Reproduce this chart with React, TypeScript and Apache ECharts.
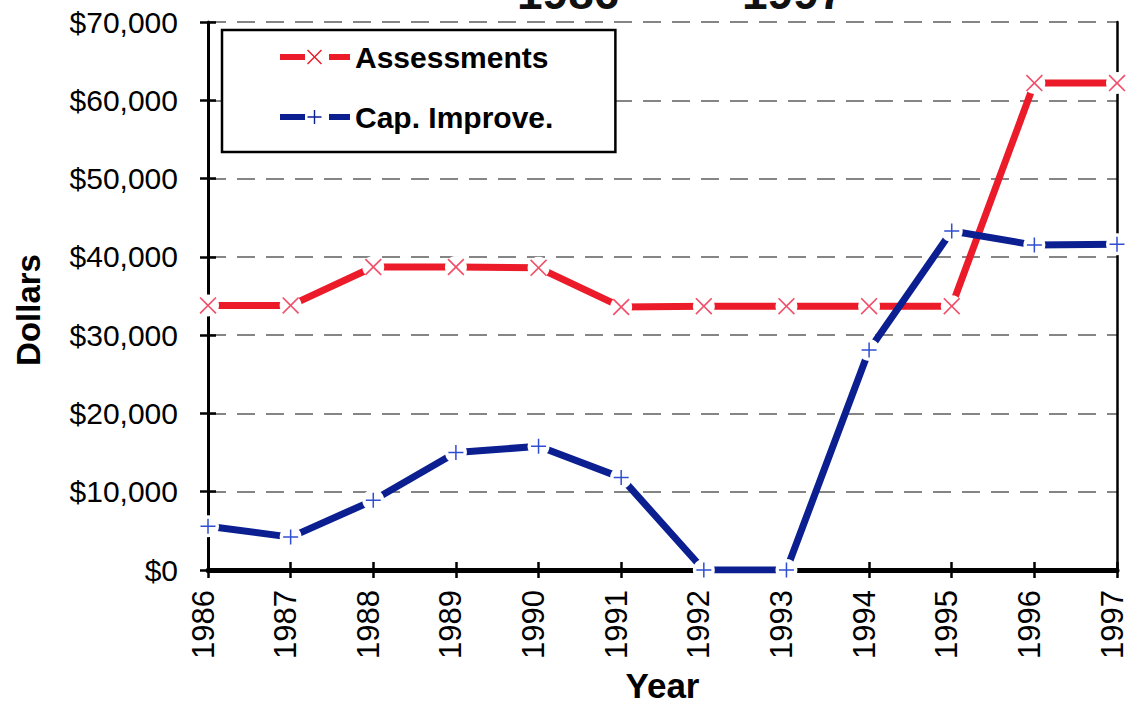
import React, { useEffect, useRef } from "react";
import * as echarts from "echarts";

const years = ["1986", "1987", "1988", "1989", "1990", "1991", "1992", "1993", "1994", "1995", "1996", "1997"];
const assessments = [33800, 33800, 38700, 38700, 38600, 33600, 33700, 33700, 33700, 33700, 62200, 62200];
const capImprove = [5600, 4200, 8900, 15000, 15800, 11800, 0, 0, 28100, 43300, 41500, 41600];
const titleParts = ["1986", "-", "1997"];
const seriesNames = ["Assessments", "Cap. Improve."];

const FONT = "'Liberation Sans', Arial, sans-serif";
const RED = "#ec1b2a";
const BLUE = "#0b1f91";
const RED_MARK = "#f0506a";
const BLUE_MARK = "#2f4fd0";

// X marker outline (unit 16 box)
const xPts: number[][] = [
  [1.1, 0], [8, 6.9], [14.9, 0], [16, 1.1], [9.1, 8], [16, 14.9],
  [14.9, 16], [8, 9.1], [1.1, 16], [0, 14.9], [6.9, 8], [0, 1.1],
];
const plusPts: number[][] = [
  [7.2, 0], [8.8, 0], [8.8, 7.2], [16, 7.2], [16, 8.8], [8.8, 8.8],
  [8.8, 16], [7.2, 16], [7.2, 8.8], [0, 8.8], [0, 7.2], [7.2, 7.2],
];
function poly(pts: number[][], ox: number, oy: number, s: number) {
  return (
    pts
      .map((p, i) => (i === 0 ? "M" : "L") + (ox + p[0] * s).toFixed(2) + "," + (oy + p[1] * s).toFixed(2))
      .join(" ") + " Z"
  );
}
const X_SYMBOL = "path://" + poly(xPts, 0, 0, 1);
const PLUS_SYMBOL = "path://" + poly(plusPts, 0, 0, 1);
const dashes = "M0,12 H25 V18 H0 Z M49,12 H70 V18 H49 Z ";
const X_LEGEND = "path://" + dashes + poly(xPts, 27, 7.5, 15 / 16);
const PLUS_LEGEND = "path://" + dashes + poly(plusPts, 27.5, 8, 14 / 16);

export default function App() {
  const ref = useRef<HTMLDivElement>(null);
  useEffect(() => {
    if (!ref.current) return;
    const chart = echarts.init(ref.current, null, { renderer: "svg" });
    const gridRect = { left: 208, right: 9, top: 22, bottom: 132, outerBoundsMode: "none", containLabel: false };
    const titleFont = "bold 46px " + FONT;
    chart.setOption({
      animation: false,
      backgroundColor: "#ffffff",
      textStyle: { fontFamily: FONT },
      grid: [
        { ...gridRect, show: false },
        { ...gridRect, show: false },
      ],
      graphic: [
        {
          type: "group",
          children: [
            { type: "text", x: 517, y: -30, style: { text: titleParts[0], font: titleFont, fill: "#111" } },
            { type: "text", x: 672, y: -30, style: { text: titleParts[1], font: titleFont, fill: "#111" } },
            { type: "text", x: 742, y: -30, style: { text: titleParts[2], font: titleFont, fill: "#111" } },
          ],
        },
      ],
      legend: {
        orient: "vertical",
        left: 222,
        top: 30,
        padding: [12, 62, 20, 58],
        itemGap: 30,
        itemWidth: 70,
        itemHeight: 30,
        backgroundColor: "#ffffff",
        borderColor: "#000",
        borderWidth: 2.5,
        borderRadius: 0,
        selectedMode: false,
        textStyle: { fontSize: 30, fontWeight: "bold", color: "#000", fontFamily: FONT },
        data: [
          { name: seriesNames[0], icon: X_LEGEND, itemStyle: { color: RED, borderWidth: 0 } },
          { name: seriesNames[1], icon: PLUS_LEGEND, itemStyle: { color: BLUE, borderWidth: 0 } },
        ],
      },
      xAxis: [
        {
          gridIndex: 0,
          type: "category",
          data: years,
          boundaryGap: false,
          position: "bottom",
          z: 1,
          axisLine: { show: true, lineStyle: { color: "#000", width: 5 } },
          axisTick: { show: true, inside: false, length: 8, lineStyle: { color: "#000", width: 2.5 } },
          axisLabel: {
            rotate: 90,
            fontSize: 31,
            color: "#000",
            margin: 20,
            fontFamily: FONT,
            verticalAlign: "bottom",
            lineHeight: 10,
          },
          splitLine: { show: false },
          name: "Year",
          nameLocation: "middle",
          nameGap: 98,
          nameTextStyle: { fontSize: 35, fontWeight: "bold", color: "#000", fontFamily: FONT },
        },
        {
          gridIndex: 1,
          type: "category",
          data: years,
          boundaryGap: false,
          position: "top",
          z: 1,
          axisLine: { show: true, lineStyle: { color: "#000", width: 2.5 } },
          axisTick: { show: false },
          axisLabel: { show: false },
          splitLine: { show: false },
        },
        {
          gridIndex: 1,
          type: "category",
          data: years,
          boundaryGap: false,
          position: "bottom",
          z: 1,
          axisLine: { show: false },
          axisTick: { show: true, inside: true, length: 8, lineStyle: { color: "#000", width: 2.5 } },
          axisLabel: { show: false },
          splitLine: { show: false },
        },
      ],
      yAxis: [
        {
          gridIndex: 0,
          type: "value",
          min: 0,
          max: 70000,
          interval: 10000,
          position: "left",
          z: 0,
          axisLine: { show: true, lineStyle: { color: "#000", width: 3 } },
          axisTick: { show: true, inside: false, length: 8, lineStyle: { color: "#000", width: 2.5 } },
          axisLabel: {
            fontSize: 30,
            color: "#000",
            margin: 30,
            fontFamily: FONT,
            formatter: (v: number) => "$" + v.toLocaleString("en-US"),
          },
          splitLine: { show: true, lineStyle: { color: "#5e5e5e", width: 1.5, type: [18, 11] } },
          name: "Dollars",
          nameLocation: "middle",
          nameGap: 163,
          nameTextStyle: { fontSize: 33, fontWeight: "bold", color: "#000", fontFamily: FONT, padding: [0, 28, 0, 0] },
        },
        {
          gridIndex: 1,
          type: "value",
          min: 0,
          max: 70000,
          interval: 10000,
          position: "right",
          z: 1,
          axisLine: { show: true, lineStyle: { color: "#000", width: 2.5 } },
          axisTick: { show: false },
          axisLabel: { show: false },
          splitLine: { show: false },
        },
        {
          gridIndex: 1,
          type: "value",
          min: 0,
          max: 70000,
          interval: 10000,
          position: "left",
          z: 1,
          axisLine: { show: false },
          axisTick: { show: true, inside: true, length: 8, lineStyle: { color: "#000", width: 2.5 } },
          axisLabel: { show: false },
          splitLine: { show: false },
        },
      ],
      series: [
        {
          type: "line",
          name: "assessments-line",
          data: assessments,
          xAxisIndex: 0,
          yAxisIndex: 0,
          lineStyle: { color: RED, width: 7 },
          symbol: "circle",
          symbolSize: 22,
          showSymbol: true,
          itemStyle: { color: "#ffffff", borderWidth: 0 },
          silent: true,
        },
        {
          type: "line",
          name: "cap-line",
          data: capImprove,
          xAxisIndex: 0,
          yAxisIndex: 0,
          lineStyle: { color: BLUE, width: 7 },
          symbol: "circle",
          symbolSize: 22,
          showSymbol: true,
          itemStyle: { color: "#ffffff", borderWidth: 0 },
          silent: true,
        },
        {
          type: "line",
          name: seriesNames[0],
          data: assessments,
          xAxisIndex: 0,
          yAxisIndex: 0,
          lineStyle: { width: 0, opacity: 0 },
          symbol: X_SYMBOL,
          symbolSize: 17,
          showSymbol: true,
          itemStyle: { color: RED_MARK, borderWidth: 0 },
          silent: true,
        },
        {
          type: "line",
          name: seriesNames[1],
          data: capImprove,
          xAxisIndex: 0,
          yAxisIndex: 0,
          lineStyle: { width: 0, opacity: 0 },
          symbol: PLUS_SYMBOL,
          symbolSize: 15,
          showSymbol: true,
          itemStyle: { color: BLUE_MARK, borderWidth: 0 },
          silent: true,
        },
      ],
    });
    return () => chart.dispose();
  }, []);
  return (
    <div
      ref={ref}
      style={{ position: "absolute", left: 0, top: 0, width: 1126, height: 702, background: "#fff" }}
    />
  );
}
